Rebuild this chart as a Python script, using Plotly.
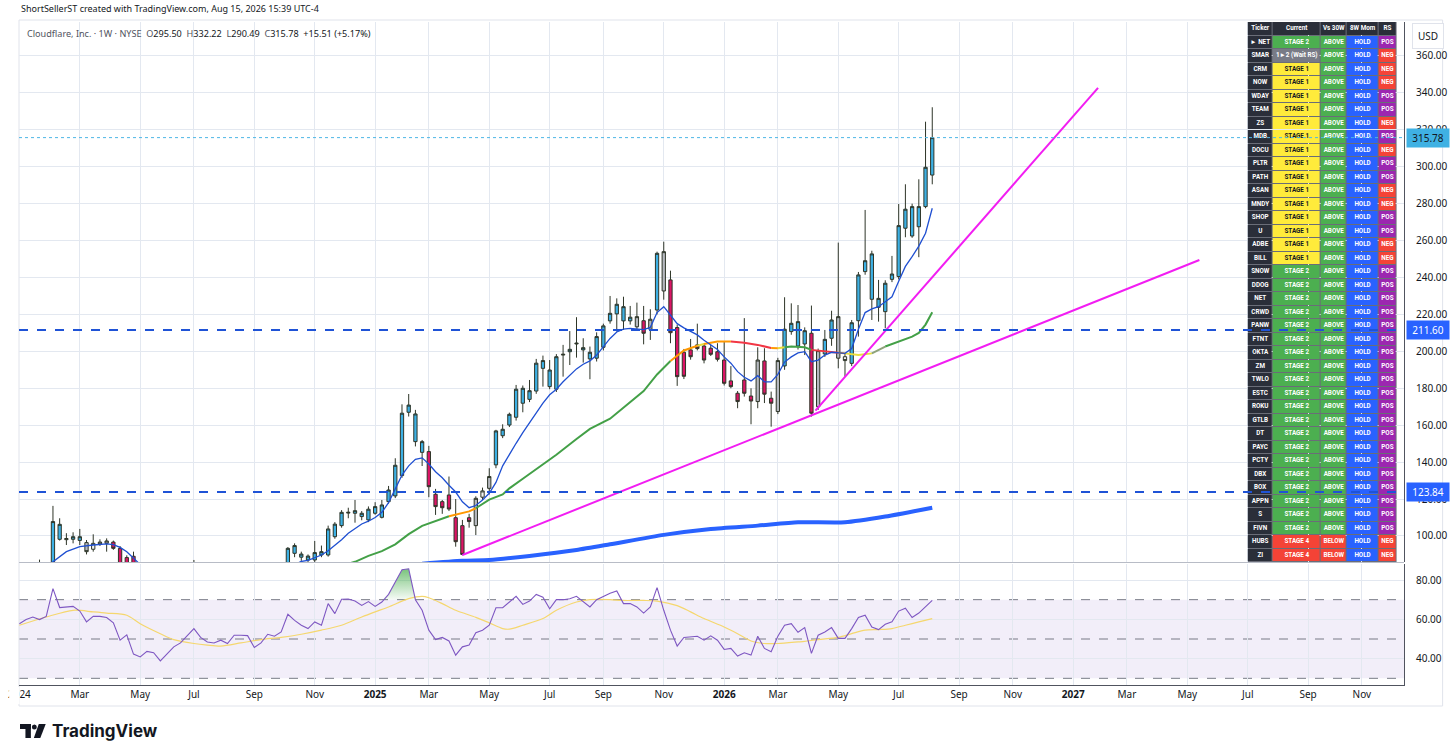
import pandas as pd
import plotly.graph_objects as go

W, H = 1456, 755
ML, MR, MT, MB = 8, 49, 22, 70

FIRST_WEEK = pd.Timestamp("2024-01-01")

# weekly candles, week number counted from FIRST_WEEK (b=blue, p=pink, g=gray, w=white)
WEEK = [3, 5, 6, 7, 8, 9, 10, 11, 12, 13, 14, 15, 16, 17, 26,
        40, 41, 42, 43, 44, 45, 46, 47, 48, 49, 50, 51, 52, 53, 54, 55, 56, 57, 58, 59,
        60, 61, 62, 63, 64, 65, 66, 67, 68, 69, 70, 71, 72, 73, 74, 75, 76, 77, 78, 79,
        80, 81, 82, 83, 84, 85, 86, 87, 88, 89, 90, 91, 92, 93, 94, 95, 96, 97, 98, 99,
        100, 101, 102, 103, 104, 105, 106, 107, 108, 109, 110, 111, 112, 113, 114, 115, 116, 117, 118, 119,
        120, 121, 122, 123, 124, 125, 126, 127, 128, 129, 130, 131, 132, 133, 134, 135, 136]
OPEN = [80.0, 82.0, 98.2, 98.0, 98.2, 97.6, 96.4, 92.8, 95.6, 96.0, 96.7, 93.3, 88.3, 89.0, 80.0,
        84.0, 90.6, 88.5, 87.0, 87.0, 89.7, 89.7, 99.6, 105.6, 112.4, 112.3, 110.5, 108.7, 112.3, 110.1, 118.6, 121.7, 132.7, 167.0, 151.1,
        145.3, 145.7, 122.6, 118.6, 122.2, 109.9, 105.6, 109.9, 105.6, 121.0, 125.8, 138.5, 154.3, 160.1, 164.3, 171.9, 174.0, 178.5, 190.8, 180.9,
        179.5, 198.0, 199.8, 204.0, 200.8, 195.9, 196.3, 202.2, 216.5, 220.3, 216.5, 216.5, 213.3, 216.6, 212.0, 222.4, 232.7, 238.7, 212.9, 199.5,
        200.8, 203.5, 202.9, 201.7, 199.8, 195.3, 184.0, 177.3, 184.5, 175.8, 172.8, 194.8, 174.6, 167.4, 192.1, 210.7, 202.9, 204.0, 209.8, 170.0,
        198.6, 207.1, 196.3, 197.1, 193.5, 216.6, 243.2, 228.2, 223.9, 221.5, 239.0, 240.5, 266.7, 262.5, 267.5, 278.4, 295.50]
HIGH = [87.2, 116.3, 109.6, 101.5, 102.0, 103.8, 97.8, 100.9, 98.2, 98.7, 97.5, 94.5, 89.5, 91.5, 87.0,
        94.0, 96.0, 91.5, 90.0, 97.3, 94.8, 105.6, 107.5, 114.0, 115.3, 119.5, 113.5, 116.0, 118.3, 119.5, 127.1, 142.1, 171.3, 176.9, 168.3,
        152.0, 148.8, 125.5, 119.5, 132.2, 120.0, 108.7, 112.0, 121.5, 126.2, 136.7, 157.5, 160.5, 166.8, 181.8, 181.5, 184.5, 195.9, 197.7, 195.3,
        198.5, 203.5, 211.0, 218.5, 207.1, 202.6, 210.3, 215.0, 230.0, 228.7, 229.6, 224.6, 226.4, 224.6, 222.8, 254.0, 259.4, 243.7, 214.5, 201.3,
        206.7, 215.0, 204.5, 203.5, 204.4, 205.3, 192.0, 178.5, 218.0, 180.0, 202.2, 201.7, 178.2, 196.5, 229.3, 226.0, 225.1, 213.0, 224.8, 201.5,
        211.6, 222.0, 258.9, 199.0, 217.0, 243.0, 276.6, 254.5, 238.7, 238.5, 251.7, 279.8, 290.5, 280.0, 293.2, 324.4, 332.22]
LOW = [77.0, 79.5, 97.5, 95.1, 96.0, 95.1, 90.0, 91.5, 94.6, 91.5, 92.5, 80.0, 80.0, 80.0, 76.0,
       80.0, 88.5, 86.5, 85.0, 85.5, 88.5, 88.8, 98.5, 104.5, 109.6, 107.2, 108.5, 107.5, 111.5, 109.5, 117.5, 120.5, 131.5, 164.7, 148.5,
       137.9, 121.0, 111.4, 112.0, 113.5, 94.2, 89.5, 104.5, 100.5, 119.5, 122.5, 136.7, 153.0, 159.0, 162.5, 167.0, 172.5, 177.0, 180.9, 179.5,
       178.0, 186.3, 192.6, 196.6, 193.9, 184.9, 194.5, 200.5, 215.0, 210.7, 211.6, 214.5, 211.5, 203.8, 206.2, 220.0, 228.0, 204.4, 181.3, 185.0,
       195.5, 200.5, 193.5, 197.5, 194.5, 181.5, 180.0, 169.2, 175.5, 160.5, 169.2, 172.0, 159.2, 166.0, 190.0, 209.0, 201.0, 198.0, 164.7, 168.3,
       197.0, 203.0, 190.8, 186.3, 192.0, 208.0, 241.5, 217.0, 216.1, 212.5, 237.5, 239.0, 261.8, 261.5, 251.0, 277.5, 290.49]
CLOSE = [84.0, 107.8, 106.3, 98.6, 99.6, 99.6, 91.5, 96.0, 96.7, 97.3, 93.3, 84.0, 82.0, 83.0, 82.0,
         93.3, 94.8, 90.2, 89.1, 91.0, 91.5, 103.8, 106.4, 112.8, 112.8, 113.7, 112.3, 114.5, 115.9, 116.8, 124.9, 138.3, 166.5, 170.9, 166.1,
         151.1, 126.7, 115.9, 115.3, 114.6, 96.9, 90.0, 107.8, 120.4, 124.4, 132.2, 156.9, 157.8, 165.9, 179.5, 180.0, 178.7, 193.6, 195.0, 189.9,
         197.1, 198.4, 201.1, 204.4, 202.0, 199.5, 208.0, 213.8, 220.6, 225.5, 224.2, 218.5, 218.8, 209.8, 217.4, 253.1, 254.0, 210.1, 186.3, 186.5,
         197.1, 201.5, 195.3, 198.4, 195.7, 182.7, 180.9, 172.8, 177.3, 173.1, 195.3, 176.8, 171.9, 195.0, 212.0, 215.2, 216.1, 211.2, 166.5, 200.4,
         206.5, 217.0, 218.8, 195.0, 215.5, 241.4, 249.1, 252.8, 228.7, 236.9, 241.9, 268.1, 277.0, 278.4, 278.4, 299.7, 315.78]
TONE = ["g", "b", "b", "g", "b", "b", "g", "w", "g", "g", "p", "p", "p", "p", "g",
        "b", "b", "b", "b", "b", "b", "b", "b", "b", "g", "b", "b", "b", "b", "b", "b", "b", "b", "b", "b",
        "b", "p", "p", "p", "p", "p", "p", "p", "g", "w", "g", "b", "b", "b", "b", "b", "b", "b", "b", "b",
        "b", "g", "b", "g", "b", "b", "b", "b", "b", "b", "b", "b", "g", "p", "g", "b", "g", "p", "p", "p",
        "p", "p", "p", "p", "p", "p", "p", "p", "p", "p", "g", "p", "p", "g", "b", "b", "b", "b", "p", "g",
        "b", "b", "g", "w", "b", "b", "b", "b", "b", "b", "b", "b", "b", "b", "b", "b", "b"]

# thin blue 10-week average (None = gap while it is off the bottom)
MA10_WEEK = [4, 5, 7, 9, 11, 13, 14, 15, 16, 17, 18, None,
             41, 42, 43, 44, 45, 46, 47, 48, 49, 50, 51, 52, 53, 54, 55, 56, 57, 58, 59,
             60, 61, 62, 63, 64, 65, 66, 67, 68, 69, 70, 71, 72, 73, 74, 75, 76, 77, 78, 79,
             80, 81, 82, 83, 84, 85, 86, 87, 88, 89, 90, 91, 92, 93, 94, 95, 96, 97, 98, 99,
             100, 101, 102, 103, 104, 105, 106, 107, 108, 109, 110, 111, 112, 113, 114, 115, 116, 117, 118, 119,
             120, 121, 122, 123, 124, 125, 126, 127, 128, 129, 130, 131, 132, 133, 134, 135, 136]
MA10 = [84.0, 86.0, 91.5, 94.2, 95.1, 95.7, 95.3, 93.8, 91.5, 88.0, 84.5, None,
        84.5, 86.2, 86.8, 88.2, 89.7, 92.0, 94.8, 98.0, 101.5, 104.0, 106.5, 108.0, 110.0, 112.8, 118.0, 125.5, 133.0, 138.0, 141.5,
        142.3, 139.0, 134.8, 131.5, 127.5, 123.8, 118.5, 115.3, 116.5, 119.5, 123.1, 129.0, 138.0, 144.5, 150.2, 156.0, 161.5, 166.5, 172.0, 176.5,
        179.5, 183.5, 187.0, 190.5, 193.0, 194.8, 198.0, 202.5, 207.0, 210.5, 212.0, 212.5, 212.0, 211.8, 213.0, 221.0, 224.2, 219.5, 215.0, 212.7,
        210.8, 208.9, 206.0, 203.5, 201.0, 197.0, 193.6, 189.0, 186.0, 184.0, 186.8, 183.5, 183.5, 187.5, 194.2, 197.0, 199.2, 199.8, 194.4, 195.3,
        198.0, 199.5, 199.0, 198.9, 201.5, 212.0, 221.0, 223.0, 224.2, 227.0, 229.6, 238.0, 246.0, 251.3, 257.0, 264.0, 277.5]

# 30-week average, coloured by slope (g=rising, y=levelling, o=flat, r=falling, n=neutral)
MA30_WEEK = [48, 50, 52, 54, 56, 58, 60, 62, 63, 64, 65, 66, 67, 68, 70, 72, 73, 75, 78, 80, 83, 85, 88, 90, 93, 95, 96,
             97, 99, 101, 102, 104, 106, 108, 110, 112, 113, 114, 115, 117, 118, 120, 122, 123, 125, 127, 129, 131, 133, 134, 135, 136]
MA30 = [84.0, 86.0, 89.2, 91.8, 95.5, 101.0, 105.5, 108.0, 109.5, 110.7, 111.5, 112.4, 113.3, 115.0, 119.7, 122.5, 125.8, 131.0, 138.7, 144.0, 152.5, 158.0, 163.5, 169.5, 178.5, 187.5, 191.0,
        194.8, 200.5, 203.0, 204.0, 205.3, 205.3, 204.7, 203.5, 201.8, 201.7, 202.2, 202.6, 202.2, 200.8, 200.0, 199.3, 198.9, 198.0, 198.9, 202.6, 205.3, 208.0, 210.0, 214.5, 221.2]
MA30_TONE = ["g", "g", "g", "g", "g", "g", "g", "g", "g", "o", "o", "o", "o", "g", "g", "g", "g", "g", "g", "g", "g", "g", "g", "g", "g", "g", "g",
             "o", "o", "y", "o", "o", "r", "r", "r", "o", "y", "g", "g", "g", "r", "r", "o", "y", "y", "n", "g", "g", "g", "g", "g", "g"]

# thick blue long-term average
MA_LONG_WEEK = [60, 66, 70, 76, 83, 88, 96, 103, 110, 116, 123, 129, 136]
MA_LONG = [85.0, 86.6, 87.0, 89.2, 92.4, 95.5, 100.6, 103.8, 105.6, 107.4, 107.4, 110.5, 115.3]

# magenta trend lines: (start week, end week), (start price, end price)
TREND_A_WEEK, TREND_A_PRICE = [66.0, 175.8], [89.7, 249.5]
TREND_B_WEEK, TREND_B_PRICE = [118.6, 160.7], [167.9, 342.7]

LEVELS = [211.60, 123.84]
LAST_PRICE = 315.78

# RSI (one value per week from week 0) and its average
RSI = [57.8, 59.9, 61.2, 59.9, 61.5, 75.6, 66.0, 66.3, 66.6, 64.2, 58.7, 61.5, 61.5, 60.9, 58.2, 49.4, 52.1, 42.3, 40.9, 43.7,
       43.0, 38.9, 42.7, 46.0, 48.0, 51.4, 55.3, 50.8, 48.5, 48.0, 49.4, 47.7, 51.9, 51.9, 51.7, 45.7, 48.0, 52.4, 51.4, 53.6,
       62.6, 59.5, 57.0, 55.3, 58.7, 57.0, 68.0, 62.9, 70.2, 70.3, 69.3, 67.1, 69.0, 66.6, 68.8, 72.7, 78.9, 85.2, 85.7, 70.0,
       64.6, 54.5, 49.7, 50.8, 49.0, 41.8, 46.0, 46.9, 53.2, 54.5, 57.0, 65.9, 65.9, 68.8, 71.7, 67.6, 69.3, 72.7, 71.3, 65.4,
       70.0, 70.0, 70.5, 71.7, 68.8, 66.3, 70.0, 71.7, 73.3, 74.4, 68.0, 68.0, 66.3, 63.2, 66.3, 76.1, 64.6, 54.5, 46.4, 50.8,
       51.1, 51.4, 49.4, 51.6, 49.4, 44.7, 45.2, 41.3, 43.0, 41.8, 51.4, 45.2, 43.5, 51.4, 57.0, 57.8, 53.4, 55.8, 42.7, 51.9,
       53.6, 55.8, 50.3, 50.3, 55.3, 60.9, 62.1, 56.1, 54.8, 57.5, 58.7, 64.2, 65.7, 60.9, 63.2, 66.3, 69.6]
RSI_MA_WEEK = [0, 4, 8, 11, 13, 16, 18, 21, 23, 26, 28, 30, 33, 36, 39, 42, 45, 48, 51, 53, 55, 58, 60, 61, 63, 65, 68, 70,
               72, 73, 75, 78, 80, 83, 85, 88, 90, 93, 95, 98, 100, 102, 105, 107, 109, 111, 113, 116, 117, 119, 122, 124, 126,
               128, 130, 132, 134, 136]
RSI_MA = [57.0, 61.2, 64.6, 63.8, 63.2, 62.1, 57.8, 52.7, 49.7, 47.7, 46.9, 46.4, 48.0, 49.7, 50.8, 52.4, 54.5, 57.0, 61.2, 63.8, 66.3, 70.5, 71.7, 71.0, 68.0, 64.6, 61.0, 58.2,
          55.3, 55.0, 57.0, 60.4, 64.6, 68.8, 70.0, 70.0, 69.6, 69.6, 69.3, 67.0, 63.8, 60.4, 56.1, 52.7, 49.0, 47.7, 47.7, 48.5, 48.8, 49.7, 50.8, 52.7, 54.5,
          54.8, 55.3, 57.0, 58.7, 60.4]
OB_WEEKS = [54, 55, 56, 57, 58, 59]

TICK_DATES = ["2024-01-01", "2024-03-04", "2024-05-06", "2024-07-01", "2024-09-02", "2024-11-04",
              "2025-01-06", "2025-03-03", "2025-05-05", "2025-07-07", "2025-09-01", "2025-11-03",
              "2026-01-05", "2026-03-02", "2026-05-04", "2026-07-06", "2026-09-07", "2026-11-02",
              "2027-01-04", "2027-03-01", "2027-05-03", "2027-07-05", "2027-09-06", "2027-11-01"]
TICK_TEXT = ["2024", "Mar", "May", "Jul", "Sep", "Nov",
             "<b>2025</b>", "Mar", "May", "Jul", "Sep", "Nov",
             "<b>2026</b>", "Mar", "May", "Jul", "Sep", "Nov",
             "<b>2027</b>", "Mar", "May", "Jul", "Sep", "Nov"]

# screener table
TABLE_HEAD = ["Ticker", "Current", "Vs 30W", "8W Mom", "RS"]
TICKERS = ["► NET", "SMAR", "CRM", "NOW", "WDAY", "TEAM", "ZS", "MDB", "DOCU", "PLTR", "PATH", "ASAN", "MNDY",
           "SHOP", "U", "ADBE", "BILL", "SNOW", "DDOG", "NET", "CRWD", "PANW", "FTNT", "OKTA", "ZM", "TWLO",
           "ESTC", "ROKU", "GTLB", "DT", "PAYC", "PCTY", "DBX", "BOX", "APPN", "S", "FIVN", "HUBS", "ZI"]
STAGE = ["STAGE 2", "1►2 (Wait RS)", "STAGE 1", "STAGE 1", "STAGE 1", "STAGE 1", "STAGE 1", "STAGE 1", "STAGE 1",
         "STAGE 1", "STAGE 1", "STAGE 1", "STAGE 1", "STAGE 1", "STAGE 1", "STAGE 1", "STAGE 1", "STAGE 2", "STAGE 2",
         "STAGE 2", "STAGE 2", "STAGE 2", "STAGE 2", "STAGE 2", "STAGE 2", "STAGE 2", "STAGE 2", "STAGE 2", "STAGE 2",
         "STAGE 2", "STAGE 2", "STAGE 2", "STAGE 2", "STAGE 2", "STAGE 2", "STAGE 2", "STAGE 2", "STAGE 4", "STAGE 4"]
VS30W = ["ABOVE", "ABOVE", "ABOVE", "ABOVE", "ABOVE", "ABOVE", "ABOVE", "ABOVE", "ABOVE", "ABOVE", "ABOVE", "ABOVE", "ABOVE",
         "ABOVE", "ABOVE", "ABOVE", "ABOVE", "ABOVE", "ABOVE", "ABOVE", "ABOVE", "ABOVE", "ABOVE", "ABOVE", "ABOVE", "ABOVE",
         "ABOVE", "ABOVE", "ABOVE", "ABOVE", "ABOVE", "ABOVE", "ABOVE", "ABOVE", "ABOVE", "ABOVE", "ABOVE", "BELOW", "BELOW"]
MOM8W = ["HOLD", "HOLD", "HOLD", "HOLD", "HOLD", "HOLD", "HOLD", "HOLD", "HOLD", "HOLD", "HOLD", "HOLD", "HOLD",
         "HOLD", "HOLD", "HOLD", "HOLD", "HOLD", "HOLD", "HOLD", "HOLD", "HOLD", "HOLD", "HOLD", "HOLD", "HOLD",
         "HOLD", "HOLD", "HOLD", "HOLD", "HOLD", "HOLD", "HOLD", "HOLD", "HOLD", "HOLD", "HOLD", "HOLD", "HOLD"]
RS = ["POS", "NEG", "NEG", "NEG", "POS", "POS", "NEG", "POS", "NEG", "POS", "POS", "NEG", "NEG",
      "POS", "POS", "NEG", "NEG", "POS", "POS", "POS", "POS", "POS", "POS", "POS", "POS", "POS",
      "POS", "POS", "POS", "POS", "POS", "POS", "POS", "POS", "POS", "POS", "POS", "NEG", "NEG"]

# ---- styling ----
FONT = "Noto Sans"
TXT = "#131722"
GRID = "#e3e8f0"
CANDLE_FILL = {"b": "#3db0e4", "p": "#dc1466", "g": "#b5b8bf", "w": "#f2f2f2"}
WICK = "#2e3528"
MA30_COL = {"g": "#43a047", "y": "#e8dd3a", "o": "#ff9800", "r": "#f23645", "n": "#8fa37a"}
HEAD_BG = "#2a2e39"
CELL_COL = {"STAGE 2": "#4caf50", "STAGE 1": "#ffeb3b", "1►2 (Wait RS)": "#787b86", "STAGE 4": "#f44336",
            "ABOVE": "#4caf50", "BELOW": "#f44336", "HOLD": "#2962ff", "POS": "#9c27b0", "NEG": "#f44336"}
COL_EDGES = [0, 25.5, 73.5, 100, 131.5, 150]   # table column edges in pixels


def wk(w):
    return FIRST_WEEK + pd.Timedelta(weeks=w)


def px2x(px):
    return (px - ML) / (W - ML - MR)


def px2y(py):
    return 1 - (py - MT) / (H - MT - MB)


fig = go.Figure()

# candles, one trace per colour
for key in ["g", "w", "p", "b"]:
    idx = [k for k, t in enumerate(TONE) if t == key]
    fill = CANDLE_FILL[key]
    fig.add_trace(go.Candlestick(
        x=[wk(WEEK[k]) for k in idx],
        open=[OPEN[k] for k in idx], high=[HIGH[k] for k in idx],
        low=[LOW[k] for k in idx], close=[CLOSE[k] for k in idx],
        increasing=dict(fillcolor=fill, line=dict(color=WICK, width=1)),
        decreasing=dict(fillcolor=fill, line=dict(color=WICK, width=1)),
        showlegend=False, xaxis="x", yaxis="y"))

# long average
fig.add_trace(go.Scatter(x=[wk(w) for w in MA_LONG_WEEK], y=MA_LONG, mode="lines",
                         line=dict(color="#2962ff", width=4, shape="spline", smoothing=0.6),
                         showlegend=False, xaxis="x", yaxis="y"))

# 30-week average, one trace per colour run
start = 0
for k in range(1, len(MA30) + 1):
    if k == len(MA30) or MA30_TONE[k] != MA30_TONE[start]:
        end = min(k, len(MA30) - 1)
        fig.add_trace(go.Scatter(x=[wk(w) for w in MA30_WEEK[start:end + 1]], y=MA30[start:end + 1],
                                 mode="lines", line=dict(color=MA30_COL[MA30_TONE[start]], width=2),
                                 showlegend=False, xaxis="x", yaxis="y"))
        start = k

# 10-week average
fig.add_trace(go.Scatter(x=[wk(w) if w is not None else None for w in MA10_WEEK], y=MA10, mode="lines",
                         line=dict(color="#1f4fd1", width=1.3), connectgaps=False,
                         showlegend=False, xaxis="x", yaxis="y"))

# trend lines
for tw, tp in [(TREND_A_WEEK, TREND_A_PRICE), (TREND_B_WEEK, TREND_B_PRICE)]:
    fig.add_trace(go.Scatter(x=[wk(w) for w in tw], y=tp, mode="lines",
                             line=dict(color="#f21df2", width=2), showlegend=False, xaxis="x", yaxis="y"))

# RSI pane
rsi_x = [wk(w) for w in range(len(RSI))]
fig.add_trace(go.Scatter(x=[wk(w) for w in OB_WEEKS], y=[70] * len(OB_WEEKS), mode="lines",
                         line=dict(width=0), showlegend=False, xaxis="x", yaxis="y2"))
fig.add_trace(go.Scatter(x=[wk(w) for w in OB_WEEKS], y=[max(RSI[w], 70) for w in OB_WEEKS], mode="lines",
                         line=dict(width=0), fill="tonexty",
                         fillgradient=dict(type="vertical", colorscale=[[0, "rgba(76,175,80,0.05)"],
                                                                       [1, "rgba(76,175,80,0.75)"]]),
                         showlegend=False, xaxis="x", yaxis="y2"))
fig.add_trace(go.Scatter(x=[wk(w) for w in RSI_MA_WEEK], y=RSI_MA, mode="lines",
                         line=dict(color="#f5d76e", width=1.2, shape="spline", smoothing=0.8),
                         showlegend=False, xaxis="x", yaxis="y2"))
fig.add_trace(go.Scatter(x=rsi_x, y=RSI, mode="lines", line=dict(color="#7e57c2", width=1.1),
                         showlegend=False, xaxis="x", yaxis="y2"))

# screener table: a heatmap of cell colours plus a text layer, on its own axes
cols = [TICKERS, STAGE, VS30W, MOM8W, RS]
palette = []


def pal(c):
    if c not in palette:
        palette.append(c)
    return palette.index(c)


z = [[pal(HEAD_BG)] * len(TABLE_HEAD)]
for r in range(len(TICKERS)):
    z.append([pal(HEAD_BG)] + [pal(CELL_COL[col[r]]) for col in cols[1:]])
n_pal = len(palette)
scale = []
for k, c in enumerate(palette):
    scale += [[k / n_pal, c], [(k + 1) / n_pal, c]]
fig.add_trace(go.Heatmap(z=z, x=COL_EDGES, y=list(range(len(TICKERS) + 1)), colorscale=scale,
                         zmin=-0.5, zmax=n_pal - 0.5, showscale=False, xgap=1, ygap=1,
                         hoverinfo="skip", xaxis="x3", yaxis="y3"))
centers = [(COL_EDGES[c] + COL_EDGES[c + 1]) / 2 for c in range(len(TABLE_HEAD))]
tx, ty, tt, tc = [], [], [], []
for c, head in enumerate(TABLE_HEAD):
    tx.append(centers[c]); ty.append(0); tt.append("<b>%s</b>" % head); tc.append("white")
    for r, v in enumerate(cols[c]):
        tx.append(centers[c]); ty.append(r + 1); tt.append("<b>%s</b>" % v)
        tc.append(TXT if v == "STAGE 1" else "white")
fig.add_trace(go.Scatter(x=tx, y=ty, text=tt, mode="text", textposition="middle center",
                         textfont=dict(family="Roboto", size=6.3, color=tc), hoverinfo="skip",
                         showlegend=False, xaxis="x3", yaxis="y3"))

shapes = []
# RSI band and guide lines
shapes.append(dict(type="rect", xref="x domain", yref="y2", x0=0, x1=1, y0=30, y1=70,
                   fillcolor="rgba(126,87,194,0.10)", line=dict(width=0), layer="below"))
for lv in [70, 50, 30]:
    shapes.append(dict(type="line", xref="x domain", yref="y2", x0=0, x1=1, y0=lv, y1=lv,
                       line=dict(color="#787b86", width=1, dash="dash"), layer="below"))
# table border colour behind the cells
shapes.append(dict(type="rect", xref="paper", yref="paper", x0=px2x(1249), x1=px2x(1399.5), y0=px2y(562), y1=1,
                   fillcolor="#6a6d78", line=dict(width=0), layer="below"))
# horizontal levels
for lv in LEVELS:
    shapes.append(dict(type="line", xref="x domain", yref="y", x0=0, x1=1, y0=lv, y1=lv,
                       line=dict(color="#1f53d6", width=2, dash="dash"), layer="above"))
shapes.append(dict(type="line", xref="x domain", yref="y", x0=0, x1=1, y0=LAST_PRICE, y1=LAST_PRICE,
                   line=dict(color="#4db6e6", width=1, dash="dot"), layer="above"))
# pane separator and frame
shapes.append(dict(type="line", xref="paper", yref="paper", x0=0, x1=1, y0=px2y(562.5), y1=px2y(562.5),
                   line=dict(color="#b8bcc6", width=1)))
shapes.append(dict(type="rect", xref="paper", yref="paper", x0=px2x(8), x1=px2x(1446), y0=px2y(706), y1=px2y(20),
                   line=dict(color="#e0e3eb", width=1), layer="below"))
# clip the first year label at the frame edge
shapes.append(dict(type="rect", xref="paper", yref="paper", x0=px2x(-2), x1=px2x(8.5), y0=px2y(704), y1=px2y(687),
                   fillcolor="white", line=dict(width=0), layer="above"))
# TradingView logo mark
shapes.append(dict(type="rect", xref="paper", yref="paper", x0=px2x(9), x1=px2x(20), y0=px2y(729), y1=px2y(724),
                   fillcolor=TXT, line=dict(width=0)))
shapes.append(dict(type="rect", xref="paper", yref="paper", x0=px2x(14.5), x1=px2x(20), y0=px2y(738), y1=px2y(724),
                   fillcolor=TXT, line=dict(width=0)))
shapes.append(dict(type="circle", xref="paper", yref="paper", x0=px2x(21), x1=px2x(26), y0=px2y(729.5), y1=px2y(724.5),
                   fillcolor=TXT, line=dict(width=0)))
shapes.append(dict(type="path", xref="paper", yref="paper",
                   path="M %f %f L %f %f L %f %f L %f %f Z" % (px2x(28), px2y(724), px2x(35), px2y(724),
                                                               px2x(29.5), px2y(738), px2x(23), px2y(738)),
                   fillcolor=TXT, line=dict(width=0)))

annotations = []
annotations.append(dict(xref="paper", yref="paper", x=px2x(8), y=px2y(8), xanchor="left", yanchor="middle",
                        text="ShortSellerST created with TradingView.com, Aug 15, 2026 15:39 UTC-4",
                        showarrow=False, font=dict(family=FONT, size=9, color=TXT)))
legend_txt = ("<span style='color:#50535e'>Cloudflare, Inc. · 1W · NYSE</span>  "
              "<span style='color:#50535e'>O</span>295.50  <span style='color:#50535e'>H</span>332.22  "
              "<span style='color:#50535e'>L</span>290.49  <span style='color:#50535e'>C</span>315.78  "
              "+15.51 (+5.17%)")
annotations.append(dict(xref="paper", yref="paper", x=px2x(14), y=px2y(33), xanchor="left", yanchor="middle",
                        text=legend_txt, showarrow=False, font=dict(family=FONT, size=9.1, color=TXT)))
annotations.append(dict(xref="paper", yref="paper", x=px2x(39), y=px2y(731), xanchor="left", yanchor="middle",
                        text="<b>TradingView</b>", showarrow=False, font=dict(family="Inter", size=17, color=TXT)))
annotations.append(dict(xref="paper", yref="paper", x=px2x(1431), y=px2y(36), xanchor="center", yanchor="middle",
                        text="USD", showarrow=False, bgcolor="white", bordercolor="#e0e3eb", borderwidth=1,
                        borderpad=5, font=dict(family=FONT, size=10, color=TXT)))
for lv, bg, fg in [(LEVELS[0], "#2962ff", "white"), (LEVELS[1], "#2962ff", "white"), (LAST_PRICE, "#3fb1e3", TXT)]:
    annotations.append(dict(xref="paper", yref="y", x=px2x(1409), y=lv, xanchor="left", yanchor="middle",
                            text="%.2f" % lv, showarrow=False, bgcolor=bg, width=38, align="center",
                            borderpad=2, font=dict(family=FONT, size=10, color=fg)))

x_start = wk((ML - 8.4) / 6.78)
x_end = wk((W - MR - 8.4) / 6.78)

fig.update_layout(
    width=W, height=H, margin=dict(l=ML, r=MR, t=MT, b=MB),
    paper_bgcolor="white", plot_bgcolor="rgba(0,0,0,0)", showlegend=False,
    font=dict(family=FONT, size=10, color=TXT),
    xaxis=dict(type="date", range=[x_start, x_end], anchor="y2", domain=[0, 1],
               tickvals=TICK_DATES, ticktext=TICK_TEXT, showgrid=True, gridcolor=GRID, gridwidth=1,
               showline=True, linecolor="#50535e", linewidth=1, ticks="", zeroline=False,
               ticklabeloverflow="allow", rangeslider=dict(visible=False), tickfont=dict(size=10, color=TXT)),
    yaxis=dict(domain=[px2y(562), 1], range=[85.9, 378.4], side="right", dtick=20, tick0=0,
               tickformat=".2f", showgrid=True, gridcolor=GRID, zeroline=False, ticks="",
               showline=True, linecolor="#50535e", linewidth=1, ticklabelstandoff=9,
               tickfont=dict(size=10, color=TXT)),
    yaxis2=dict(domain=[0, px2y(563.5)], range=[26.6, 88.4], side="right", tickvals=[40, 60, 80],
                tickformat=".2f", showgrid=True, gridcolor=GRID, zeroline=False, ticks="",
                showline=True, linecolor="#50535e", linewidth=1, ticklabelstandoff=9,
                tickfont=dict(size=10, color=TXT)),
    xaxis3=dict(domain=[px2x(1249), px2x(1399.5)], range=[0, 150], anchor="y3", visible=False, fixedrange=True),
    yaxis3=dict(domain=[px2y(562), 1], range=[len(TICKERS) + 0.5, -0.5], anchor="x3", visible=False,
                fixedrange=True),
    shapes=shapes, annotations=annotations,
)

fig.write_html("out.html", config={"displayModeBar": False},
               post_script="document.body.style.margin='0';")
